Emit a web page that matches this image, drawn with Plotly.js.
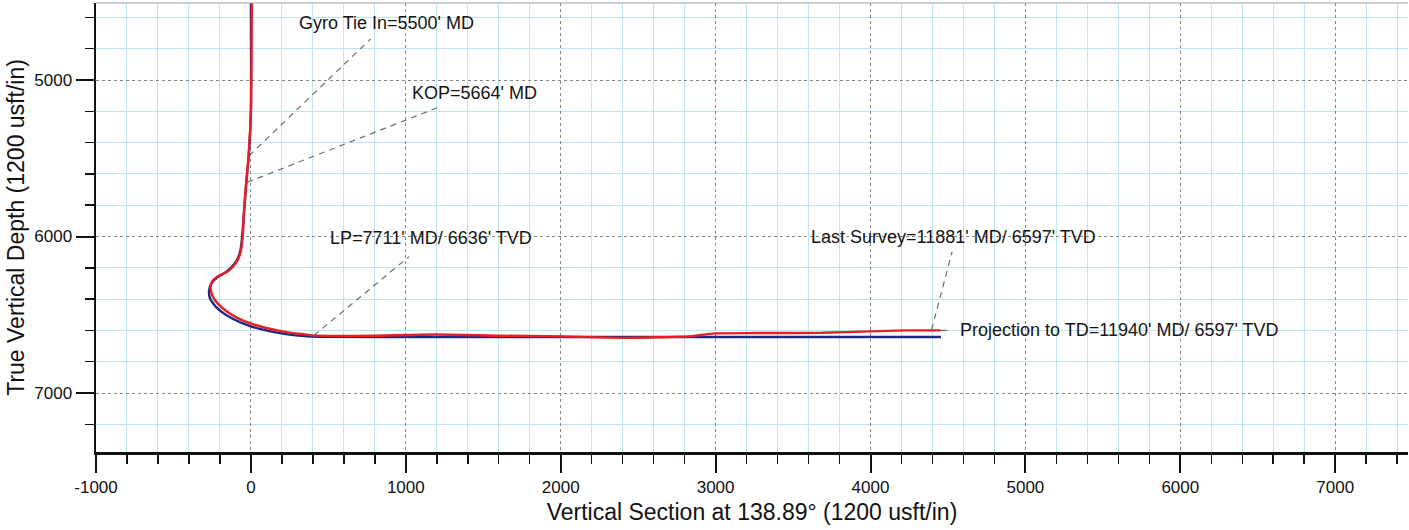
<!DOCTYPE html>
<html>
<head>
<meta charset="utf-8">
<script src="https://cdn.plot.ly/plotly-3.0.1.min.js"></script>
<style>html,body{margin:0;padding:0;background:#fff;}#chart{width:1409px;height:530px;}</style>
</head>
<body>
<div id="chart"></div>
<script>
// Plan (blue) well path: vertical section (usft) vs TVD (usft)
const planVS  = [0, 0, -14, -30, -45, -55, -68, -90, -125, -165, -218, -255, -270, -264, -226, -160, -60, 70, 225, 360, 550, 1000, 2000, 3000, 4000, 4455];
const planTVD = [4500, 5200, 5485, 5658, 5850, 5990, 6090, 6150, 6195, 6230, 6262, 6298, 6346, 6396, 6450, 6502, 6552, 6594, 6624, 6637, 6641, 6642, 6642, 6642, 6642, 6642];

// Actual survey (red) well path
const actVS  = [6, 0, -15, -30, -39, -45, -52, -64, -85, -115, -150, -211, -248, -261, -248, -211, -146, -50, 80, 230, 359, 396, 552, 784, 1191, 1604, 1992, 2399, 2612, 2831, 2993, 3258, 3690, 3994, 4227, 4452];
const actTVD = [4500, 5200, 5485, 5656, 5766, 5852, 5990, 6090, 6150, 6192, 6224, 6253, 6285, 6327, 6380, 6432, 6485, 6538, 6580, 6611, 6627, 6632, 6635, 6634, 6626, 6634, 6638, 6648, 6644, 6638, 6619, 6617, 6615, 6606, 6600, 6600];

// Annotation labels and leader-line end points (data units)
const labelText = ["Gyro Tie In=5500' MD", "KOP=5664' MD", "LP=7711' MD/ 6636' TVD", "Last Survey=11881' MD/ 6597' TVD", "Projection to TD=11940' MD/ 6597' TVD"];
const labelVS   = [300, 1030, 495, 3600, 4565];
const labelTVD  = [4634, 5083, 6008, 6006, 6596];
const leaderVS0  = [-12, -24, 407, 4394, 4452];
const leaderTVD0 = [5484, 5654, 6632, 6596, 6600];
const leaderVS1  = [772, 1224, 1020, 4527, 4495];
const leaderTVD1 = [4738, 5169, 6129, 6097, 6600];

// Axis ticks
const xTickVals = [-1000, 0, 1000, 2000, 3000, 4000, 5000, 6000, 7000];
const xTickText = ['-1000', '0', '1000', '2000', '3000', '4000', '5000', '6000', '7000'];
const yTickVals = [5000, 6000, 7000];
const yTickText = ['5000', '6000', '7000'];
const xMinorVals = [-800, -600, -400, -200, 200, 400, 600, 800, 1200, 1400, 1600, 1800, 2200, 2400, 2600, 2800,
  3200, 3400, 3600, 3800, 4200, 4400, 4600, 4800, 5200, 5400, 5600, 5800, 6200, 6400, 6600, 6800, 7200, 7400];
const yMinorVals = [4600, 4800, 5200, 5400, 5600, 5800, 6200, 6400, 6600, 6800, 7200];

const FONT = 'Arial, "Liberation Sans", sans-serif';

const traces = [];
for (let i = 0; i < labelText.length; i++) {
  traces.push({
    x: [leaderVS0[i], leaderVS1[i]], y: [leaderTVD0[i], leaderTVD1[i]],
    mode: 'lines', type: 'scatter', hoverinfo: 'skip', showlegend: false,
    line: {color: '#6e6e6e', width: 1.2, dash: i === 4 ? 'solid' : '6px,5px'}
  });
}
traces.push({x: planVS, y: planTVD, mode: 'lines', type: 'scatter', showlegend: false,
  line: {color: '#1c2a80', width: 2.4, shape: 'spline', smoothing: 0.5}});
traces.push({x: actVS, y: actTVD, mode: 'lines', type: 'scatter', showlegend: false,
  line: {color: '#ec1c24', width: 2.4, shape: 'spline', smoothing: 0.5}});

const annotations = labelText.map((t, i) => ({
  x: labelVS[i], y: labelTVD[i], xref: 'x', yref: 'y', text: t, showarrow: false,
  xanchor: 'left', yanchor: 'middle', font: {family: FONT, size: 18, color: '#151515'}
}));

function axisStyle(minorVals) {
  return {
    showline: true, linewidth: 2.5, linecolor: '#111',
    ticks: 'outside', ticklen: 18, tickwidth: 2, tickcolor: '#111',
    showgrid: true, gridcolor: '#858585', gridwidth: 1, griddash: 'dot',
    zeroline: false, tickfont: {family: FONT, size: 17, color: '#111'},
    tickmode: 'array',
    minor: {tickmode: 'array', tickvals: minorVals, ticks: 'outside', ticklen: 9, tickwidth: 1.5,
            tickcolor: '#111', showgrid: true, gridcolor: '#bde6ec', gridwidth: 1, griddash: 'solid'}
  };
}

const layout = {
  width: 1409, height: 530,
  margin: {l: 96, r: 1, t: 3, b: 78},
  paper_bgcolor: '#fff', plot_bgcolor: '#fff',
  xaxis: Object.assign(axisStyle(xMinorVals), {
    range: [-1000, 7470], tickvals: xTickVals, ticktext: xTickText,
    title: {text: 'Vertical Section at 138.89° (1200 usft/in)', font: {family: FONT, size: 23, color: '#111'}, standoff: 8}
  }),
  yaxis: Object.assign(axisStyle(yMinorVals), {
    range: [7377, 4508], tickvals: yTickVals, ticktext: yTickText,
    title: {text: 'True Vertical Depth (1200 usft/in)', font: {family: FONT, size: 23, color: '#111'}, standoff: 3}
  }),
  shapes: [{type: 'line', xref: 'paper', yref: 'paper', x0: 0, x1: 1, y0: 1, y1: 1, line: {color: '#9a9a9a', width: 1}}],
  annotations: annotations
};

Plotly.newPlot('chart', traces, layout, {staticPlot: true, displayModeBar: false});
</script>
</body>
</html>
